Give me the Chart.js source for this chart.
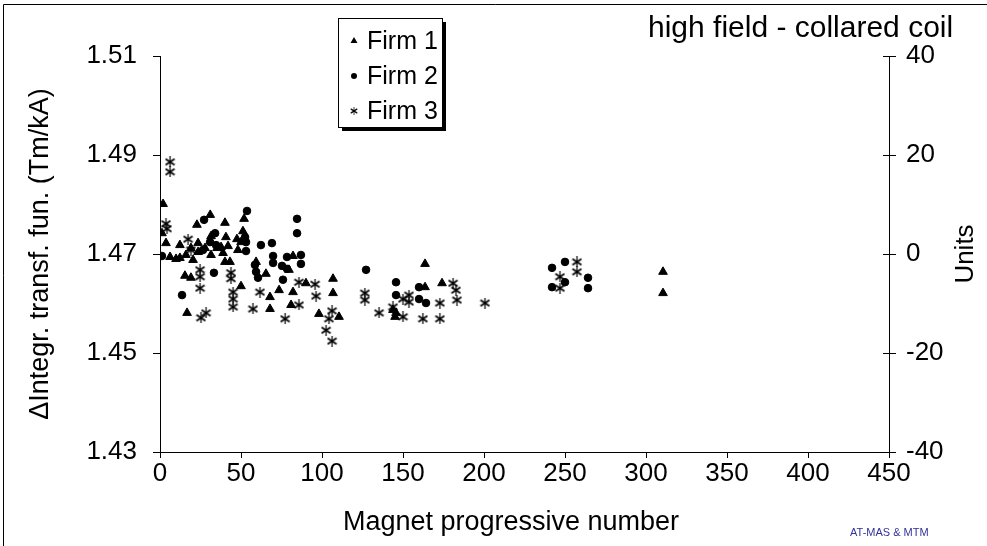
<!DOCTYPE html>
<html lang="en">
<head>
<meta charset="UTF-8">
<title>High field - collared coil</title>
<script src="https://cdn.jsdelivr.net/npm/chart.js"></script>
<style>
  body { margin: 0; background: #fff; }
  #wrap { width: 987px; height: 546px; position: relative; }
</style>
</head>
<body>
<div id="wrap"><canvas id="coilChart"></canvas></div>
<script>
// [magnet number, integrated transfer function (Tm/kA)]
const firm1 = [
  [1.9, 1.4801], [1.2, 1.4742], [3.7, 1.4722], [6.2, 1.4694], [9.9, 1.4690],
  [22.8, 1.4759], [31.0, 1.4779], [40.1, 1.4763], [51.9, 1.4771], [51.2, 1.4746],
  [40.7, 1.4734], [47.5, 1.4730], [31.5, 1.4736], [23.5, 1.4722], [12.3, 1.4718],
  [19.1, 1.4712], [37.7, 1.4714], [42.0, 1.4716], [12.3, 1.4692], [16.0, 1.4698],
  [20.4, 1.4688], [23.5, 1.4704], [27.8, 1.4712], [31.5, 1.4698], [35.2, 1.4712],
  [38.9, 1.4702], [48.1, 1.4708], [50.0, 1.4724], [40.1, 1.4684], [43.2, 1.4684],
  [59.3, 1.4684], [15.4, 1.4656], [19.1, 1.4652], [50.0, 1.4635], [65.4, 1.4660],
  [67.9, 1.4613], [67.9, 1.4589], [80.9, 1.4597], [90.1, 1.4641], [16.7, 1.4581],
  [82.1, 1.4696], [79.6, 1.4668], [73.5, 1.4627], [82.1, 1.4623], [106.8, 1.4650],
  [106.8, 1.4621], [98.1, 1.4579], [110.5, 1.4573], [145.7, 1.4581], [163.6, 1.4680],
  [174.1, 1.4641], [163.6, 1.4633], [143.8, 1.4587], [145.1, 1.4573], [310.5, 1.4664],
  [310.5, 1.4621]
];
const firm2 = [
  [1.2, 1.4696], [27.2, 1.4769], [53.7, 1.4787], [34.0, 1.4742], [52.5, 1.4734],
  [53.1, 1.4724], [62.3, 1.4718], [69.1, 1.4722], [84.6, 1.4771], [84.6, 1.4742],
  [30.9, 1.4724], [34.6, 1.4718], [26.5, 1.4708], [53.1, 1.4706], [78.4, 1.4694],
  [87.0, 1.4698], [33.3, 1.4662], [13.6, 1.4617], [78.4, 1.4670], [87.0, 1.4680],
  [58.6, 1.4678], [59.3, 1.4664], [60.5, 1.4652], [69.8, 1.4696], [69.8, 1.4682],
  [75.3, 1.4676], [75.9, 1.4648], [127.2, 1.4668], [145.7, 1.4643], [145.7, 1.4617],
  [159.9, 1.4633], [159.9, 1.4609], [164.2, 1.4601], [242.0, 1.4672], [250.0, 1.4684],
  [242.0, 1.4633], [250.0, 1.4643], [264.2, 1.4652], [264.2, 1.4631]
];
const firm3 = [
  [6.2, 1.4886], [6.2, 1.4866], [3.7, 1.4761], [4.3, 1.4751], [17.3, 1.4730],
  [19.1, 1.4708], [24.7, 1.4668], [24.7, 1.4654], [24.7, 1.4631], [43.8, 1.4662],
  [43.8, 1.4650], [45.1, 1.4623], [45.1, 1.4609], [45.1, 1.4593], [61.7, 1.4623],
  [57.4, 1.4589], [25.3, 1.4571], [28.4, 1.4581], [85.8, 1.4643], [85.8, 1.4597],
  [77.2, 1.4569], [95.7, 1.4639], [96.3, 1.4615], [106.2, 1.4585], [104.3, 1.4569],
  [102.5, 1.4546], [106.2, 1.4524], [126.5, 1.4621], [126.5, 1.4607], [135.2, 1.4581],
  [143.8, 1.4593], [150.0, 1.4609], [153.7, 1.4617], [153.7, 1.4603], [180.9, 1.4641],
  [182.7, 1.4627], [183.3, 1.4607], [172.8, 1.4601], [162.3, 1.4569], [172.8, 1.4569],
  [150.0, 1.4573], [200.6, 1.4601], [257.4, 1.4684], [257.4, 1.4664], [246.9, 1.4654],
  [246.9, 1.4631]
];

const seriesNames = ['Firm 1', 'Firm 2', 'Firm 3'];
const xTicks = [0, 50, 100, 150, 200, 250, 300, 350, 400, 450];
const yTicks = [1.43, 1.45, 1.47, 1.49, 1.51];
const unitTicks = [-40, -20, 0, 20, 40];

const FONT = "'Liberation Sans', Arial, sans-serif";

// little "ж" style asterisk used by Firm 3
function makeAsterisk(size) {
  const c = document.createElement('canvas');
  c.width = size; c.height = size;
  const g = c.getContext('2d');
  g.strokeStyle = '#000';
  const m = Math.floor(size / 2) + 0.5;
  g.lineWidth = 1.2;
  g.beginPath();
  g.moveTo(m, 0); g.lineTo(m, size);
  g.stroke();
  g.lineWidth = 1.7;
  g.beginPath();
  g.moveTo(1, 2.5); g.lineTo(size - 1, size - 2.5);
  g.moveTo(1, size - 2.5); g.lineTo(size - 1, 2.5);
  g.stroke();
  return c;
}
const asterisk = makeAsterisk(11);

function toPoints(arr) {
  return arr.map(p => ({ x: p[0], y: p[1] }));
}

// frame, legend box, titles drawn on top
const decorations = {
  id: 'decorations',
  afterDraw(chart) {
    const ctx = chart.ctx;
    const area = chart.chartArea;
    ctx.save();

    // outer frame (only top/left edges fall inside the picture)
    ctx.strokeStyle = '#000';
    ctx.lineWidth = 1;
    ctx.beginPath();
    ctx.moveTo(3.5, 546);
    ctx.lineTo(3.5, 4.5);
    ctx.lineTo(987, 4.5);
    ctx.stroke();

    // right axis ticks cross the axis
    const y2 = chart.scales.y2;
    ctx.beginPath();
    unitTicks.forEach(v => {
      const py = Math.round(y2.getPixelForValue(v)) + 0.5;
      ctx.moveTo(area.right - 6, py);
      ctx.lineTo(area.right, py);
    });
    ctx.stroke();

    ctx.fillStyle = '#000';
    ctx.textAlign = 'center';
    ctx.textBaseline = 'middle';

    // x axis title
    ctx.font = '27px ' + FONT;
    ctx.fillText('Magnet progressive number', 511, 523);

    // right axis title reads bottom to top
    ctx.font = '26px ' + FONT;
    ctx.save();
    ctx.translate(966, (area.top + area.bottom) / 2);
    ctx.rotate(-Math.PI / 2);
    ctx.fillText('Units', 0, 0);
    ctx.restore();

    // title
    ctx.font = '30px ' + FONT;
    ctx.textAlign = 'left';
    ctx.fillText('high field - collared coil', 648, 29);

    // legend
    const lx = 338, ly = 18, lw = 104, lh = 109;
    ctx.fillStyle = '#000';
    ctx.fillRect(lx + 4, ly + 4, lw, lh);
    ctx.fillStyle = '#fff';
    ctx.fillRect(lx, ly, lw, lh);
    ctx.strokeRect(lx + 0.5, ly + 0.5, lw, lh);

    ctx.font = '25px ' + FONT;
    ctx.fillStyle = '#000';
    const rows = [41, 76, 111];
    seriesNames.forEach((name, i) => {
      const my = rows[i];
      const mx = 354;
      ctx.beginPath();
      if (i === 0) {
        ctx.moveTo(mx, my - 4);
        ctx.lineTo(mx + 3.5, my + 2);
        ctx.lineTo(mx - 3.5, my + 2);
        ctx.closePath();
        ctx.fill();
      } else if (i === 1) {
        ctx.arc(mx, my, 3, 0, Math.PI * 2);
        ctx.fill();
      } else {
        ctx.drawImage(asterisk, mx - 4, my - 4, 8, 8);
      }
      ctx.fillText(name, 367, my + 1);
    });

    // footer credit
    ctx.font = '11px ' + FONT;
    ctx.fillStyle = '#33339a';
    ctx.fillText('AT-MAS & MTM', 850, 533);

    ctx.restore();
  }
};

const ctx = document.getElementById('coilChart').getContext('2d');
new Chart(ctx, {
  type: 'scatter',
  data: {
    datasets: [
      {
        label: seriesNames[0],
        data: toPoints(firm1),
        pointStyle: 'triangle',
        pointRadius: 5,
        backgroundColor: '#000',
        borderColor: '#000',
        borderWidth: 1,
        order: 2
      },
      {
        label: seriesNames[1],
        data: toPoints(firm2),
        pointStyle: 'circle',
        pointRadius: 3.8,
        backgroundColor: '#000',
        borderColor: '#000',
        borderWidth: 1,
        order: 1
      },
      {
        label: seriesNames[2],
        data: toPoints(firm3),
        pointStyle: asterisk,
        pointRadius: 5,
        backgroundColor: '#000',
        borderColor: '#000',
        order: 0
      }
    ]
  },
  options: {
    responsive: true,
    maintainAspectRatio: false,
    animation: false,
    layout: { padding: { top: 56, left: 0, right: 0, bottom: 0 } },
    plugins: {
      legend: { display: false },
      tooltip: { enabled: false }
    },
    scales: {
      x: {
        type: 'linear',
        position: 'bottom',
        min: 0,
        max: 450,
        afterBuildTicks: s => { s.ticks = xTicks.map(v => ({ value: v })); },
        afterFit: s => { s.height = 94; },
        ticks: { color: '#000', font: { family: FONT, size: 26 }, padding: 0, maxRotation: 0 },
        grid: { drawOnChartArea: false, color: '#000', tickLength: 6 },
        border: { color: '#000', width: 1 },
        title: { display: false }
      },
      y: {
        position: 'left',
        min: 1.43,
        max: 1.51,
        afterBuildTicks: s => { s.ticks = yTicks.map(v => ({ value: v })); },
        afterFit: s => { s.width = 160; },
        ticks: {
          color: '#000',
          font: { family: FONT, size: 26 },
          padding: 16,
          callback: v => v.toFixed(2)
        },
        grid: { drawOnChartArea: false, color: '#000', tickLength: 7 },
        border: { color: '#000', width: 1 },
        title: {
          display: true,
          text: '\u0394Integr. transf. fun. (Tm/kA)',
          color: '#000',
          font: { family: FONT, size: 27 },
          padding: { top: 24, bottom: 0 }
        }
      },
      y2: {
        position: 'right',
        min: -40,
        max: 40,
        afterBuildTicks: s => { s.ticks = unitTicks.map(v => ({ value: v })); },
        afterFit: s => { s.width = 98; },
        ticks: { color: '#000', font: { family: FONT, size: 26 }, padding: 10 },
        grid: { drawOnChartArea: false, color: '#000', tickLength: 7 },
        border: { color: '#000', width: 1 },
        title: { display: false }
      }
    }
  },
  plugins: [decorations]
});
</script>
</body>
</html>
